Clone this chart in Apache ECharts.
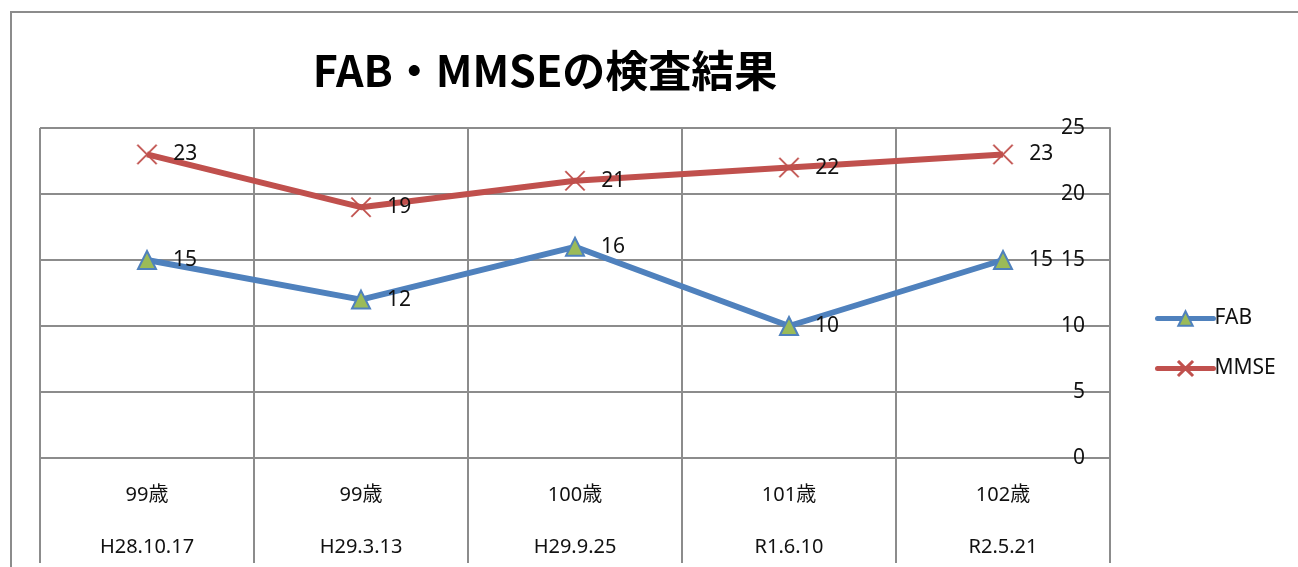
<!DOCTYPE html>
<html>
<head>
<meta charset="utf-8">
<script src="https://cdn.jsdelivr.net/npm/echarts@6.0.0/dist/echarts.min.js"></script>
<style>
  html, body { margin: 0; padding: 0; background: #fff; overflow: hidden; }
  #chart { width: 1298px; height: 567px; }
</style>
</head>
<body>
<div id="chart"></div>
<script>
const ages = ['99歳', '99歳', '100歳', '101歳', '102歳'];
const dates = ['H28.10.17', 'H29.3.13', 'H29.9.25', 'R1.6.10', 'R2.5.21'];
const fabValues = [15, 12, 16, 10, 15];
const mmseValues = [23, 19, 21, 22, 23];

const categories = ages.map((a, i) => a + '\n' + dates[i]);

const font = '"Noto Sans", "Noto Sans CJK JP", sans-serif';
const gridGray = '#8c8c8c';

// thin X drawn as a filled polygon (path symbols are filled, not stroked)
const crossPath = 'path://M1,0 L10,9 L19,0 L20,1 L11,10 L20,19 L19,20 L10,11 L1,20 L0,19 L9,10 L0,1 Z';

const chart = echarts.init(document.getElementById('chart'));

const labelStyle = {
    show: true,
    position: 'right',
    distance: 16,
    color: '#111',
    fontSize: 21,
    fontFamily: font
};

chart.setOption({
    backgroundColor: '#fff',
    animation: false,
    title: {
        text: 'FAB・MMSEの検査結果',
        left: 540,
        top: 44,
        textAlign: 'center',
        textStyle: {
            fontFamily: '"Noto Sans CJK JP", sans-serif',
            fontWeight: 'bold',
            fontSize: 43,
            color: '#000'
        }
    },
    graphic: [{
        type: 'rect',
        shape: { x: 11, y: 12, width: 1400, height: 700 },
        style: { fill: 'none', stroke: gridGray, lineWidth: 2 },
        silent: true
    }],
    legend: {
        orient: 'vertical',
        left: 1150,
        top: 303,
        itemWidth: 56,
        itemHeight: 18,
        itemGap: 29,
        lineStyle: { width: 5, cap: 'round' },
        textStyle: { fontFamily: font, fontSize: 21, color: '#111', padding: [0, 0, 0, -4] },
        data: ['FAB', 'MMSE']
    },
    grid: {
        left: 40,
        right: 188,
        top: 128,
        bottom: 109,
        containLabel: false,
        outerBoundsMode: 'none'
    },
    xAxis: {
        type: 'category',
        data: categories,
        boundaryGap: true,
        axisLine: { show: true, lineStyle: { color: gridGray, width: 2 } },
        axisTick: { show: true, length: 105, lineStyle: { color: gridGray, width: 2 } },
        splitLine: { show: true, lineStyle: { color: gridGray, width: 2 } },
        axisLabel: {
            margin: 11,
            lineHeight: 52,
            fontSize: 20,
            fontFamily: font,
            color: '#111'
        }
    },
    yAxis: {
        type: 'value',
        position: 'right',
        min: 0,
        max: 25,
        interval: 5,
        axisLine: { show: true, lineStyle: { color: gridGray, width: 2 } },
        axisTick: { show: false },
        splitLine: { show: true, lineStyle: { color: gridGray, width: 2 } },
        axisLabel: {
            inside: true,
            margin: 25,
            fontSize: 21,
            fontFamily: font,
            color: '#111'
        }
    },
    series: [
        {
            name: 'FAB',
            type: 'line',
            data: fabValues,
            symbol: 'triangle',
            symbolSize: 18,
            lineStyle: { color: '#4F81BD', width: 6 },
            itemStyle: { color: '#9BBB59', borderColor: '#4F81BD', borderWidth: 2 },
            label: labelStyle,
            z: 3
        },
        {
            name: 'MMSE',
            type: 'line',
            data: mmseValues,
            symbol: crossPath,
            symbolSize: 20,
            lineStyle: { color: '#C0504D', width: 6 },
            itemStyle: { color: '#C0504D', borderColor: '#C0504D', borderWidth: 0.5 },
            label: labelStyle,
            z: 3
        }
    ]
});
</script>
</body>
</html>
